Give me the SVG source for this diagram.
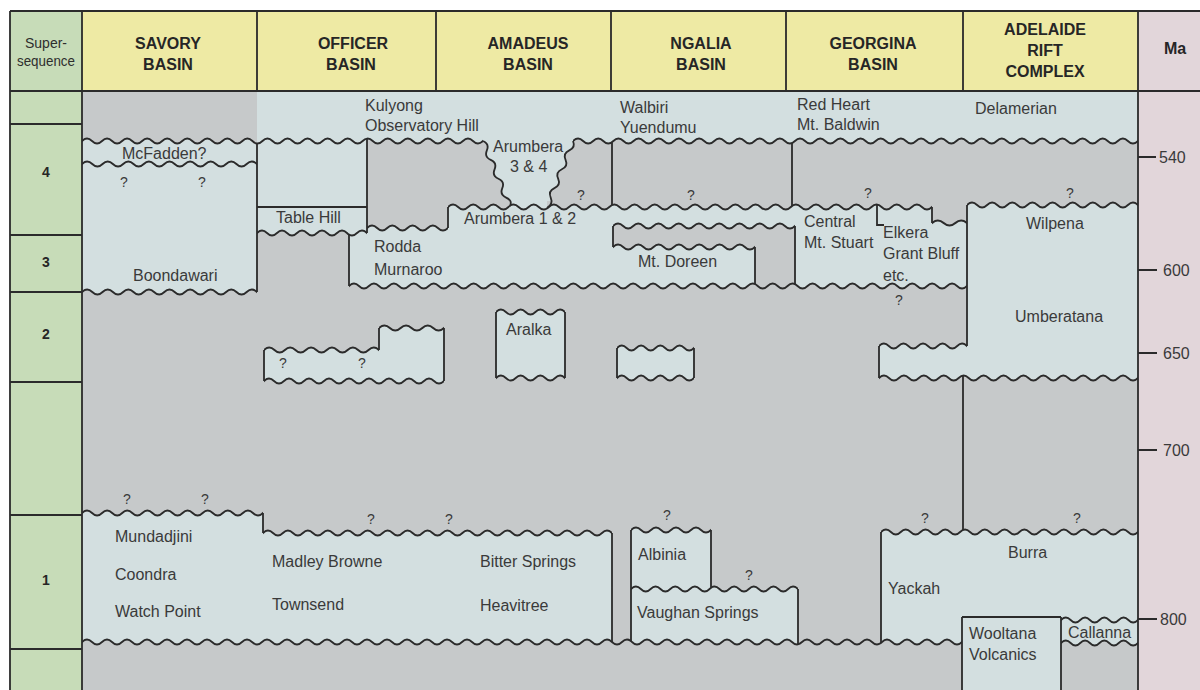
<svg xmlns="http://www.w3.org/2000/svg" width="1200" height="690" viewBox="0 0 1200 690">
<defs>
<style>
.ln{fill:none;stroke:#2b2b2b;stroke-width:1.8}
.fb{fill:#D3DFE0}
.fg{fill:#C6C9CA}
.wb{fill:#D3DFE0;stroke:#2b2b2b;stroke-width:1.8}
.wg{fill:#C6C9CA;stroke:#2b2b2b;stroke-width:1.8}
text{font-family:"Liberation Sans",Arial,sans-serif;fill:#3a3a3a}
.u{font-size:16px}
.q{font-size:14px;text-anchor:middle}
.h{font-size:16px;font-weight:bold;text-anchor:middle;fill:#262626}
.s{font-size:14px;text-anchor:middle;fill:#2e2e2e}
.n{font-size:14px;font-weight:bold;text-anchor:middle;fill:#262626}
.m{font-size:16px}
</style>
<path id="w" d="M-20 0q5 -5 10 0t10 0 10 0 10 0 10 0 10 0 10 0 10 0 10 0 10 0 10 0
10 0 10 0 10 0 10 0 10 0 10 0 10 0 10 0 10 0 10 0
10 0 10 0 10 0 10 0 10 0 10 0 10 0 10 0 10 0 10 0
10 0 10 0 10 0 10 0 10 0 10 0 10 0 10 0 10 0 10 0
10 0 10 0 10 0 10 0 10 0 10 0 10 0 10 0 10 0 10 0
10 0 10 0 10 0 10 0 10 0 10 0 10 0 10 0 10 0 10 0
10 0 10 0 10 0 10 0 10 0 10 0 10 0 10 0 10 0 10 0
10 0 10 0 10 0 10 0 10 0 10 0 10 0 10 0 10 0 10 0
10 0 10 0 10 0 10 0 10 0 10 0 10 0 10 0 10 0 10 0
10 0 10 0 10 0 10 0 10 0 10 0 10 0 10 0 10 0 10 0
10 0 10 0 10 0 10 0 10 0 10 0 10 0 10 0 10 0 10 0
10 0 10 0 10 0 10 0 10 0 10 0 10 0 10 0 10 0 10 0
10 0 10 0 10 0 10 0 10 0 10 0 10 0 10 0 10 0 10 0L1300 8L-20 8Z"/>
</defs>

<rect width="1200" height="690" fill="#fff"/>
<g id="background">
<rect x="10" y="11" width="1190" height="679" fill="#C6C9CA"/>
<rect x="82" y="11" width="1056" height="80" fill="#EEEAA4"/>
<rect x="10" y="11" width="72" height="679" fill="#C7DCB8"/>
<rect x="1138" y="11" width="62" height="679" fill="#E2D6DA"/>
</g>

<g id="units">
<rect class="fb" x="257" y="91" width="881" height="50"/>
<rect class="fb" x="82" y="141" width="175" height="151"/>
<rect class="fb" x="257" y="141" width="110" height="92"/>
<path class="fb" d="M483 141Q489.6 143.8 486.86 150.43T490.71 159.86T494.57 169.29T498.43 178.71T502.29 188.14T506.14 197.57T510 207L547 207Q553.48 204.06 550.71 197.57T554.43 188.14T558.14 178.71T561.86 169.29T565.57 159.86T569.29 150.43T573 141Z"/>
<polygon class="fb" points="349,233 367,233 367,228 448,228 448,207 932,207 932,223 967,223 967,205 1138,205 1138,378 879,378 879,346 967,346 967,286 349,286"/>
<polygon class="fg" points="613,226 795,226 795,286 755,286 755,247 613,247"/>
<polygon class="fb" points="264,350 379,350 379,328 444,328 444,381 264,381"/>
<rect class="fb" x="496" y="312" width="69" height="66"/>
<rect class="fb" x="617" y="348" width="77" height="30"/>
<polygon class="fb" points="82,513 263,513 263,533 612,533 612,642 82,642"/>
<polygon class="fb" points="631,530 711,530 711,589 798,589 798,642 631,642"/>
<polygon class="fb" points="881,532 1138,532 1138,643 1061,643 1061,690 962,690 962,642 881,642"/>
</g>

<g id="unconformities">
<svg x="82" y="135" width="175" height="12"><rect class="fg" width="100%" height="100%"/><use href="#w" class="wb" transform="translate(0 6) scale(1.0025 1)"/></svg>
<svg x="257" y="135" width="110" height="12"><rect class="fb" width="100%" height="100%"/><use href="#w" class="wb" transform="translate(-175 6) scale(1.0025 1)"/></svg>
<svg x="367" y="135" width="116" height="12"><rect class="fb" width="100%" height="100%"/><use href="#w" class="wg" transform="translate(-285 6) scale(1.0025 1)"/></svg>
<svg x="573" y="135" width="565" height="12"><rect class="fb" width="100%" height="100%"/><use href="#w" class="wg" transform="translate(0 6) scale(1.0089 1)"/></svg>
<svg x="82" y="158" width="175" height="12"><rect class="fb" width="100%" height="100%"/><use href="#w" class="wb" transform="translate(0 6) scale(1.0294 1)"/></svg>
<svg x="82" y="286" width="175" height="12"><rect class="fb" width="100%" height="100%"/><use href="#w" class="wg" transform="translate(0 6) scale(1.0294 1)"/></svg>
<svg x="257" y="227" width="92" height="12"><rect class="fb" width="100%" height="100%"/><use href="#w" class="wg" transform="translate(0 6)"/></svg>
<svg x="349" y="227" width="18" height="12"><rect class="fb" width="100%" height="100%"/><use href="#w" class="wb" transform="translate(-92 6)"/></svg>
<svg x="367" y="222" width="81" height="12"><rect class="fg" width="100%" height="100%"/><use href="#w" class="wb" transform="translate(0 6) scale(1.0125 1)"/></svg>
<svg x="448" y="201" width="62" height="12"><rect class="fg" width="100%" height="100%"/><use href="#w" class="wb" transform="translate(0 6) scale(1.0083 1)"/></svg>
<svg x="510" y="201" width="37" height="12"><rect class="fb" width="100%" height="100%"/><use href="#w" class="wb" transform="translate(-62 6) scale(1.0083 1)"/></svg>
<svg x="547" y="201" width="385" height="12"><rect class="fg" width="100%" height="100%"/><use href="#w" class="wb" transform="translate(-99 6) scale(1.0083 1)"/></svg>
<svg x="932" y="217" width="35" height="12"><rect class="fg" width="100%" height="100%"/><use href="#w" class="wb" transform="translate(0 6) scale(1.1667 1)"/></svg>
<svg x="967" y="199" width="171" height="12"><rect class="fg" width="100%" height="100%"/><use href="#w" class="wb" transform="translate(0 6) scale(1.0059 1)"/></svg>
<svg x="613" y="220" width="182" height="12"><rect class="fb" width="100%" height="100%"/><use href="#w" class="wg" transform="translate(0 6) scale(1.0111 1)"/></svg>
<svg x="613" y="241" width="142" height="12"><rect class="fg" width="100%" height="100%"/><use href="#w" class="wb" transform="translate(0 6) scale(1.0143 1)"/></svg>
<svg x="349" y="280" width="406" height="12"><rect class="fb" width="100%" height="100%"/><use href="#w" class="wg" transform="translate(0 6) scale(0.9968 1)"/></svg>
<svg x="755" y="280" width="40" height="12"><rect class="fg" width="100%" height="100%"/><use href="#w" class="wg" transform="translate(-406 6) scale(0.9968 1)"/></svg>
<svg x="795" y="280" width="172" height="12"><rect class="fb" width="100%" height="100%"/><use href="#w" class="wg" transform="translate(-446 6) scale(0.9968 1)"/></svg>
<svg x="879" y="340" width="88" height="12"><rect class="fg" width="100%" height="100%"/><use href="#w" class="wb" transform="translate(0 6) scale(0.9778 1)"/></svg>
<svg x="879" y="372" width="259" height="12"><rect class="fb" width="100%" height="100%"/><use href="#w" class="wg" transform="translate(0 6) scale(0.9962 1)"/></svg>
<svg x="264" y="344" width="115" height="12"><rect class="fg" width="100%" height="100%"/><use href="#w" class="wb" transform="translate(0 6) scale(1.0455 1)"/></svg>
<svg x="379" y="322" width="65" height="12"><rect class="fg" width="100%" height="100%"/><use href="#w" class="wb" transform="translate(0 6) scale(1.0833 1)"/></svg>
<svg x="264" y="375" width="180" height="12"><rect class="fb" width="100%" height="100%"/><use href="#w" class="wg" transform="translate(0 6)"/></svg>
<svg x="496" y="306" width="69" height="12"><rect class="fg" width="100%" height="100%"/><use href="#w" class="wb" transform="translate(0 6) scale(0.9857 1)"/></svg>
<svg x="496" y="372" width="69" height="12"><rect class="fb" width="100%" height="100%"/><use href="#w" class="wg" transform="translate(0 6) scale(0.9857 1)"/></svg>
<svg x="617" y="342" width="77" height="12"><rect class="fg" width="100%" height="100%"/><use href="#w" class="wb" transform="translate(0 6) scale(0.9625 1)"/></svg>
<svg x="617" y="372" width="77" height="12"><rect class="fb" width="100%" height="100%"/><use href="#w" class="wg" transform="translate(0 6) scale(0.9625 1)"/></svg>
<svg x="82" y="507" width="181" height="12"><rect class="fg" width="100%" height="100%"/><use href="#w" class="wb" transform="translate(0 6) scale(1.0056 1)"/></svg>
<svg x="263" y="527" width="349" height="12"><rect class="fg" width="100%" height="100%"/><use href="#w" class="wb" transform="translate(0 6) scale(0.9971 1)"/></svg>
<svg x="82" y="636" width="530" height="12"><rect class="fb" width="100%" height="100%"/><use href="#w" class="wg" transform="translate(0 6)"/></svg>
<svg x="612" y="636" width="19" height="12"><rect class="fg" width="100%" height="100%"/><use href="#w" class="wg" transform="translate(-530 6)"/></svg>
<svg x="631" y="636" width="167" height="12"><rect class="fb" width="100%" height="100%"/><use href="#w" class="wg" transform="translate(-549 6)"/></svg>
<svg x="798" y="636" width="83" height="12"><rect class="fg" width="100%" height="100%"/><use href="#w" class="wg" transform="translate(-716 6)"/></svg>
<svg x="881" y="636" width="81" height="12"><rect class="fb" width="100%" height="100%"/><use href="#w" class="wg" transform="translate(-799 6)"/></svg>
<svg x="631" y="524" width="80" height="12"><rect class="fg" width="100%" height="100%"/><use href="#w" class="wb" transform="translate(0 6)"/></svg>
<svg x="631" y="583" width="80" height="12"><rect class="fb" width="100%" height="100%"/><use href="#w" class="wb" transform="translate(0 6) scale(0.9824 1)"/></svg>
<svg x="711" y="583" width="87" height="12"><rect class="fg" width="100%" height="100%"/><use href="#w" class="wb" transform="translate(-80 6) scale(0.9824 1)"/></svg>
<svg x="881" y="526" width="257" height="12"><rect class="fg" width="100%" height="100%"/><use href="#w" class="wb" transform="translate(0 6) scale(0.9885 1)"/></svg>
<svg x="1061" y="614" width="77" height="12"><rect class="fb" width="100%" height="100%"/><use href="#w" class="wb" transform="translate(0 6) scale(0.9625 1)"/></svg>
<svg x="1061" y="637" width="77" height="12"><rect class="fb" width="100%" height="100%"/><use href="#w" class="wg" transform="translate(0 6) scale(0.9625 1)"/></svg>
</g>

<g id="contacts">
<path class="ln" d="M483 141Q489.6 143.8 486.86 150.43T490.71 159.86T494.57 169.29T498.43 178.71T502.29 188.14T506.14 197.57T510 206"/>
<path class="ln" d="M573 141Q575.8 147.5 569.29 150.43T565.57 159.86T561.86 169.29T558.14 178.71T554.43 188.14T550.71 197.57T547 208"/>
<path class="ln" d="M257 143.5V292M367 138.5V233M257 207H367M448 207V228M349 234.6V286M612 142.2V205.1M792 143.1V205.9M877 204.5V225H884M932 207V223M967 205V346M613 226V247M755 247V284M795 226V284.1M879 346V378M963 375.5V529.9M264 350V381M379 328V350M444 328V381M496 312V378M565 312V378M617 348V378M694 348V378M263 513V533M612 533V642M631 530V641.1M711 530V587.8M798 589V644.4M881 532V642.9M962 617V690M962 617H1061M1061 617V690"/>
</g>

<g id="frame">
<path class="ln" d="M10 11H1200M10 91H1200M10 11V690M82 11V690M1138 11V690M257 11V91M436 11V91M611 11V91M786 11V91M963 11V91M10 124H82M10 235H82M10 292H82M10 382H82M10 515H82M10 649H82"/>
<path class="ln" d="M1138 157H1156M1138 270H1157M1138 353H1157M1138 450H1157M1138 619H1157"/>
</g>

<g id="header">
<text class="s" x="46" y="48">Super-</text>
<text class="s" x="46" y="66" textLength="58" lengthAdjust="spacingAndGlyphs">sequence</text>
<text class="h" x="168" y="49">SAVORY</text>
<text class="h" x="168" y="69.5">BASIN</text>
<text class="h" x="353" y="49">OFFICER</text>
<text class="h" x="351" y="69.5">BASIN</text>
<text class="h" x="528" y="49">AMADEUS</text>
<text class="h" x="528" y="69.5">BASIN</text>
<text class="h" x="701" y="49">NGALIA</text>
<text class="h" x="701" y="69.5">BASIN</text>
<text class="h" x="873" y="49">GEORGINA</text>
<text class="h" x="873" y="69.5">BASIN</text>
<text class="h" x="1045" y="35">ADELAIDE</text>
<text class="h" x="1045" y="56">RIFT</text>
<text class="h" x="1045" y="77">COMPLEX</text>
<text class="h" x="1175" y="54">Ma</text>
</g>

<g id="supersequence">
<text class="n" x="46" y="177">4</text>
<text class="n" x="46" y="267">3</text>
<text class="n" x="46" y="339">2</text>
<text class="n" x="46" y="585">1</text>
</g>

<g id="ma-scale">
<text class="m" x="1159" y="162.5">540</text>
<text class="m" x="1163" y="275.5">600</text>
<text class="m" x="1163" y="358.5">650</text>
<text class="m" x="1163" y="455.5">700</text>
<text class="m" x="1160" y="624.5">800</text>
</g>

<g id="labels">
<text class="u" x="365" y="111">Kulyong</text>
<text class="u" x="365" y="131">Observatory Hill</text>
<text class="u" x="620" y="113">Walbiri</text>
<text class="u" x="620" y="133">Yuendumu</text>
<text class="u" x="797" y="110">Red Heart</text>
<text class="u" x="797" y="130">Mt. Baldwin</text>
<text class="u" x="975" y="114">Delamerian</text>
<text class="u" x="122" y="159">McFadden?</text>
<text class="u" x="493" y="152">Arumbera</text>
<text class="u" x="510" y="172">3 &amp; 4</text>
<text class="u" x="276" y="223">Table Hill</text>
<text class="u" x="464" y="224">Arumbera 1 &amp; 2</text>
<text class="u" x="374" y="252">Rodda</text>
<text class="u" x="374" y="275">Murnaroo</text>
<text class="u" x="133" y="281">Boondawari</text>
<text class="u" x="638" y="267">Mt. Doreen</text>
<text class="u" x="804" y="227">Central</text>
<text class="u" x="804" y="248">Mt. Stuart</text>
<text class="u" x="883" y="238">Elkera</text>
<text class="u" x="883" y="259">Grant Bluff</text>
<text class="u" x="883" y="281">etc.</text>
<text class="u" x="1026" y="229">Wilpena</text>
<text class="u" x="1015" y="322">Umberatana</text>
<text class="u" x="506" y="335">Aralka</text>
<text class="u" x="115" y="542">Mundadjini</text>
<text class="u" x="115" y="580">Coondra</text>
<text class="u" x="115" y="617">Watch Point</text>
<text class="u" x="272" y="567">Madley Browne</text>
<text class="u" x="272" y="610">Townsend</text>
<text class="u" x="480" y="567">Bitter Springs</text>
<text class="u" x="480" y="611">Heavitree</text>
<text class="u" x="638" y="560">Albinia</text>
<text class="u" x="637" y="618">Vaughan Springs</text>
<text class="u" x="888" y="594">Yackah</text>
<text class="u" x="1008" y="558">Burra</text>
<text class="u" x="969" y="639">Wooltana</text>
<text class="u" x="969" y="660">Volcanics</text>
<text class="u" x="1068" y="638">Callanna</text>
</g>

<g id="queries">
<text class="q" x="124" y="187">?</text>
<text class="q" x="202" y="187">?</text>
<text class="q" x="581" y="200">?</text>
<text class="q" x="691" y="200">?</text>
<text class="q" x="868" y="198">?</text>
<text class="q" x="1070" y="198">?</text>
<text class="q" x="899" y="305">?</text>
<text class="q" x="283" y="368">?</text>
<text class="q" x="362" y="368">?</text>
<text class="q" x="127" y="504">?</text>
<text class="q" x="205" y="504">?</text>
<text class="q" x="371" y="524">?</text>
<text class="q" x="449" y="524">?</text>
<text class="q" x="667" y="520">?</text>
<text class="q" x="749" y="580">?</text>
<text class="q" x="925" y="523">?</text>
<text class="q" x="1077" y="523">?</text>
</g>
</svg>
